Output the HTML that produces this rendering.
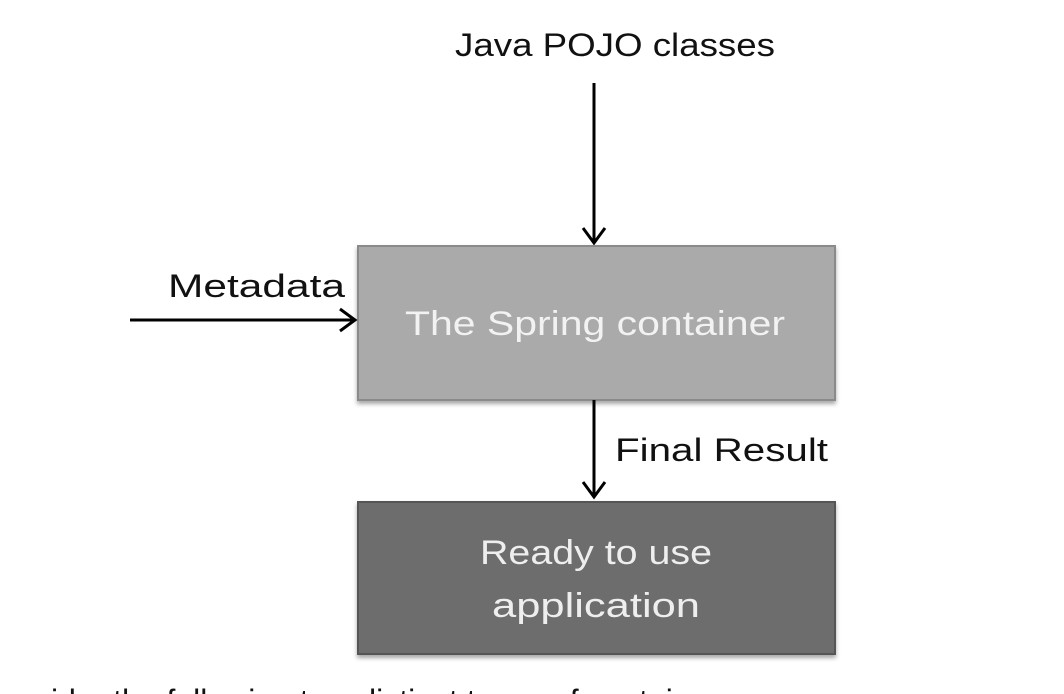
<!DOCTYPE html>
<html><head><style>
html,body{margin:0;padding:0;background:#fff;width:1064px;height:694px;overflow:hidden}
svg{display:block}
text{font-family:"Liberation Sans",sans-serif}
</style></head><body>
<svg width="1064" height="694" viewBox="0 0 1064 694">
<defs>
<filter id="sh" x="-5%" y="-5%" width="110%" height="115%"><feDropShadow dx="0" dy="3" stdDeviation="2" flood-color="#000" flood-opacity="0.35"/></filter>
</defs>
<text x="455" y="56" font-size="32" fill="#111" textLength="320" lengthAdjust="spacingAndGlyphs">Java POJO classes</text>
<line x1="594" y1="83" x2="594" y2="243" stroke="#000" stroke-width="3"/>
<polyline points="583,228 594,243 605,228" fill="none" stroke="#000" stroke-width="3"/>
<rect x="358" y="246" width="477" height="154" fill="#aaaaaa" stroke="#8a8a8a" stroke-width="2" filter="url(#sh)"/>
<text x="168" y="297" font-size="32" fill="#111" textLength="177" lengthAdjust="spacingAndGlyphs">Metadata</text>
<line x1="130" y1="320" x2="355" y2="320" stroke="#000" stroke-width="3"/>
<polyline points="340,309 355,320 340,331" fill="none" stroke="#000" stroke-width="3"/>
<text x="405" y="335" font-size="34" fill="#f2f2f2" textLength="380" lengthAdjust="spacingAndGlyphs">The Spring container</text>
<line x1="594" y1="400" x2="594" y2="497" stroke="#000" stroke-width="3"/>
<polyline points="583,482 594,497 605,482" fill="none" stroke="#000" stroke-width="3"/>
<text x="615" y="461" font-size="32" fill="#111" textLength="213" lengthAdjust="spacingAndGlyphs">Final Result</text>
<rect x="358" y="502" width="477" height="152" fill="#6d6d6d" stroke="#555" stroke-width="2" filter="url(#sh)"/>
<text x="480" y="564" font-size="34" fill="#eee" textLength="232" lengthAdjust="spacingAndGlyphs">Ready to use</text>
<text x="492" y="617" font-size="34" fill="#eee" textLength="208" lengthAdjust="spacingAndGlyphs">application</text>
<text x="51" y="712" font-size="32" fill="#111" textLength="684" lengthAdjust="spacingAndGlyphs">ider the following two distinct types of containers</text>
</svg>
</body></html>
